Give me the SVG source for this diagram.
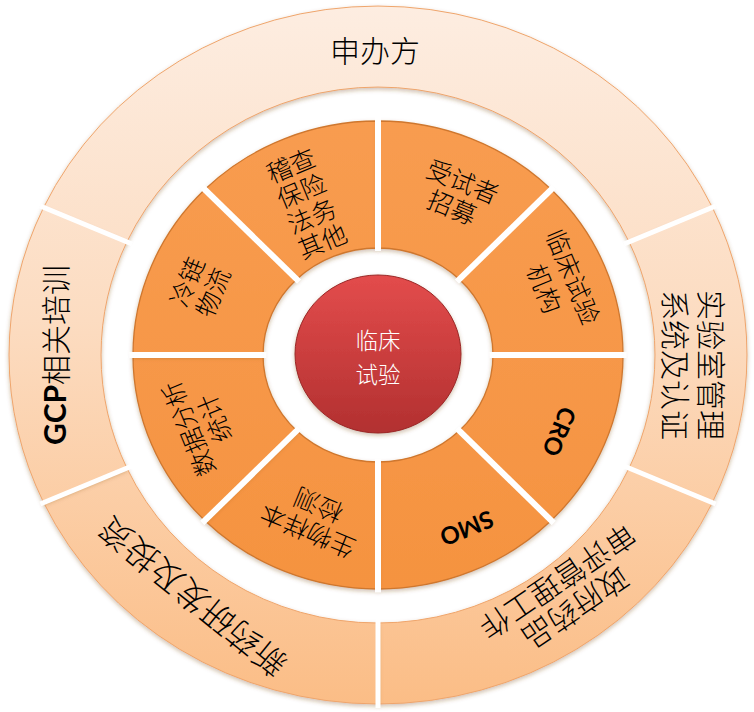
<svg xmlns="http://www.w3.org/2000/svg" width="754" height="712" viewBox="0 0 754 712">
<defs>
  <linearGradient id="gLight" gradientUnits="userSpaceOnUse" x1="0" y1="6" x2="0" y2="704">
    <stop offset="0" stop-color="#FDEDE1"/>
    <stop offset="0.45" stop-color="#FCDCC1"/>
    <stop offset="1" stop-color="#FBBD86"/>
  </linearGradient>
  <linearGradient id="gOrange" gradientUnits="userSpaceOnUse" x1="0" y1="121" x2="0" y2="589">
    <stop offset="0" stop-color="#F89C50"/>
    <stop offset="1" stop-color="#F59340"/>
  </linearGradient>
  <linearGradient id="gRed" x1="0" y1="0" x2="0" y2="1">
    <stop offset="0" stop-color="#E34C4C"/>
    <stop offset="1" stop-color="#B23030"/>
  </linearGradient>
  <filter id="sh" x="-10%" y="-10%" width="120%" height="130%">
    <feDropShadow dx="0" dy="2" stdDeviation="2" flood-color="#7a4a20" flood-opacity="0.35"/>
  </filter>
  <style>
    .light { fill: url(#gLight); stroke: #EFA56C; stroke-width: 1; filter: url(#sh); }
    .orange { fill: url(#gOrange); stroke: #CF772E; stroke-width: 1.3; filter: url(#sh); }
    .core { fill: url(#gRed); stroke: #9A2626; stroke-width: 1; filter: url(#sh); }
    .div1 { stroke: #FFFFFF; stroke-width: 5; }
    .div2 { stroke: #FFFFFF; stroke-width: 6; }
    text { font-family: 'Noto Sans CJK SC', sans-serif; font-weight: 300; fill: #000000; text-anchor: middle; dominant-baseline: central; }
    .t30 { font-size: 30px; }
    .t33 { font-size: 33px; }
    .t25 { font-size: 25px; }
    .lat { font-family: Lato, 'Noto Sans CJK SC', sans-serif; font-weight: bold; }
    .t24b { font-family: Lato, 'Noto Sans CJK SC', sans-serif; font-weight: bold; font-size: 24px; }
    .white { fill: #FFFFFF; font-size: 22.5px; }
  </style>
</defs>
<rect width="754" height="712" fill="#FFFFFF"/>

<!-- outer ring -->
<g id="sponsor">
  <path class="light" d="M43.6,207.5 A369,349 0 0 1 712.4,207.5 L629,241.7 A277,268 0 0 0 127,241.7 Z"/>
  <text class="t30" x="375" y="49">申办方</text>
</g>
<g id="lab-management">
  <path class="light" d="M712.4,207.5 A369,349 0 0 1 712.4,502.5 L629,468.3 A277,268 0 0 0 629,241.7 Z"/>
  <text class="t30" transform="translate(695,365) rotate(90)"><tspan x="0" y="-18">实验室管理</tspan><tspan x="0" y="18">系统及认证</tspan></text>
</g>
<g id="government-review">
  <path class="light" d="M712.4,502.5 A369,349 0 0 1 378,704 L378,623 A277,268 0 0 0 629,468.3 Z"/>
  <text class="t30" transform="translate(567.5,596) rotate(146)"><tspan x="0" y="-16">政府药品</tspan><tspan x="0" y="16">审评管理工作</tspan></text>
</g>
<g id="new-drug-investment">
  <path class="light" d="M378,704 A369,349 0 0 1 43.6,502.5 L127,468.3 A277,268 0 0 0 378,623 Z"/>
  <text class="t33" transform="translate(191.5,598) rotate(219)" x="0" y="0">新药研发及投资</text>
</g>
<g id="gcp-training">
  <path class="light" d="M43.6,502.5 A369,349 0 0 1 43.6,207.5 L127,241.7 A277,268 0 0 0 127,468.3 Z"/>
  <text class="t30" transform="translate(54,355) rotate(-90)" x="0" y="0"><tspan class="lat">GCP</tspan>相关培训</text>
</g>

<!-- middle ring -->
<g id="audit-insurance-legal">
  <path class="orange" d="M204.8,189.5 A245,234 0 0 1 378,121 L378,248 A115,107 0 0 0 296.7,279.3 Z"/>
  <text class="t25" transform="translate(306,202) rotate(-22.5)"><tspan x="0" y="-41">稽查</tspan><tspan x="0" y="-13.7">保险</tspan><tspan x="0" y="13.7">法务</tspan><tspan x="0" y="41">其他</tspan></text>
</g>
<g id="subject-recruitment">
  <path class="orange" d="M378,121 A245,234 0 0 1 551.2,189.5 L459.3,279.3 A115,107 0 0 0 378,248 Z"/>
  <text class="t25" transform="translate(458,193) rotate(22.5)"><tspan x="0" y="-14">受试者</tspan><tspan x="0" y="14">招募</tspan></text>
</g>
<g id="clinical-site">
  <path class="orange" d="M551.2,189.5 A245,234 0 0 1 623,355 L493,355 A115,107 0 0 0 459.3,279.3 Z"/>
  <text class="t25" transform="translate(560,282) rotate(67.5)"><tspan x="0" y="-15.5">临床试验</tspan><tspan x="0" y="15.5">机构</tspan></text>
</g>
<g id="cro">
  <path class="orange" d="M623,355 A245,234 0 0 1 551.2,520.5 L459.3,430.7 A115,107 0 0 0 493,355 Z"/>
  <text class="t24b" transform="translate(560,432) rotate(112.5)" x="0" y="0">CRO</text>
</g>
<g id="smo">
  <path class="orange" d="M551.2,520.5 A245,234 0 0 1 378,589 L378,462 A115,107 0 0 0 459.3,430.7 Z"/>
  <text class="t24b" transform="translate(467,529) rotate(157.5)" x="0" y="0">SMO</text>
</g>
<g id="biosample-testing">
  <path class="orange" d="M378,589 A245,234 0 0 1 204.8,520.5 L296.7,430.7 A115,107 0 0 0 378,462 Z"/>
  <text class="t25" transform="translate(312.5,519.5) rotate(202.5)"><tspan x="0" y="-14">生物样本</tspan><tspan x="0" y="14">检测</tspan></text>
</g>
<g id="data-statistics">
  <path class="orange" d="M204.8,520.5 A245,234 0 0 1 133,355 L263,355 A115,107 0 0 0 296.7,430.7 Z"/>
  <text class="t25" transform="translate(200,424) rotate(247.5)"><tspan x="0" y="-14">数据分析</tspan><tspan x="0" y="14">统计</tspan></text>
</g>
<g id="cold-chain">
  <path class="orange" d="M133,355 A245,234 0 0 1 204.8,189.5 L296.7,279.3 A115,107 0 0 0 263,355 Z"/>
  <text class="t25" transform="translate(198.5,286.5) rotate(-67.5)"><tspan x="0" y="-14">冷链</tspan><tspan x="0" y="14">物流</tspan></text>
</g>

<!-- segment dividers -->
<g id="dividers">
  <line class="div1" x1="132" y1="244" x2="40.3" y2="206"/>
  <line class="div1" x1="624" y1="244" x2="715.7" y2="206"/>
  <line class="div1" x1="624" y1="466" x2="715.7" y2="504"/>
  <line class="div1" x1="378" y1="618" x2="378" y2="708"/>
  <line class="div1" x1="132" y1="466" x2="40.3" y2="504"/>
  <line class="div2" x1="299.1" y1="281.6" x2="202.2" y2="187"/>
  <line class="div2" x1="378" y1="251" x2="378" y2="117.5"/>
  <line class="div2" x1="456.9" y1="281.6" x2="553.8" y2="187"/>
  <line class="div2" x1="489.5" y1="355" x2="626.7" y2="355"/>
  <line class="div2" x1="456.9" y1="428.4" x2="553.8" y2="523"/>
  <line class="div2" x1="378" y1="459" x2="378" y2="592.5"/>
  <line class="div2" x1="299.1" y1="428.4" x2="202.2" y2="523"/>
  <line class="div2" x1="266.5" y1="355" x2="129.3" y2="355"/>
</g>

<!-- center -->
<g id="clinical-trial">
  <ellipse class="core" cx="378" cy="354" rx="83" ry="79"/>
  <text class="white"><tspan x="378" y="339">临床</tspan><tspan x="378" y="373">试验</tspan></text>
</g>
</svg>
